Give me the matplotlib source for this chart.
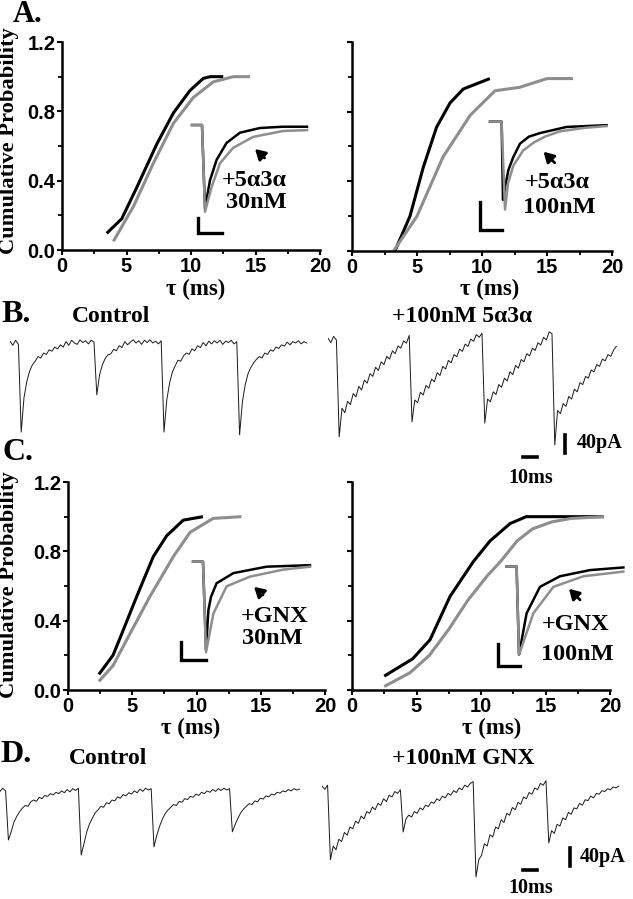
import numpy as np
import matplotlib
matplotlib.use("Agg")
import matplotlib.pyplot as plt
from matplotlib.ticker import MultipleLocator

# ---- cumulative probability curves (tau in ms, probability) ----
a30_ctrl_t = [3.46, 4.63, 5.79, 7.34, 8.63, 9.92, 10.95, 11.5, 12.5]
a30_ctrl_p = [0.096, 0.18, 0.36, 0.61, 0.79, 0.92, 0.99, 1.0, 1.0]
a30_drug_t = [3.98, 5.53, 7.08, 8.63, 10.18, 11.73, 13.28, 14.57]
a30_drug_p = [0.05, 0.25, 0.50, 0.73, 0.88, 0.97, 1.0, 1.0]

a100_ctrl_t = [3.3, 4.46, 5.48, 6.5, 7.54, 8.56, 10.6]
a100_ctrl_p = [0.0, 0.2, 0.48, 0.71, 0.85, 0.93, 0.99]
a100_drug_t = [3.2, 5.0, 7.0, 9.1, 11.0, 12.9, 15.0, 17.0]
a100_drug_p = [0.0, 0.2, 0.54, 0.78, 0.92, 0.94, 0.99, 0.99]

g30_ctrl_t = [2.4, 3.5, 4.05, 5.35, 6.64, 7.68, 8.97, 10.5]
g30_ctrl_p = [0.09, 0.2, 0.3, 0.54, 0.77, 0.89, 0.98, 1.0]
g30_drug_t = [2.4, 3.5, 4.57, 6.38, 8.2, 9.5, 11.3, 13.5]
g30_drug_p = [0.05, 0.14, 0.29, 0.54, 0.77, 0.91, 0.99, 1.0]

g100_ctrl_t = [2.5, 4.7, 6.05, 7.6, 9.4, 10.7, 12.25, 13.5, 19.5]
g100_ctrl_p = [0.08, 0.18, 0.29, 0.54, 0.74, 0.86, 0.96, 1.0, 1.0]
g100_drug_t = [2.5, 4.5, 6.0, 7.5, 9.0, 10.5, 11.5, 12.8, 14.0, 15.5, 17.0, 19.5]
g100_drug_p = [0.02, 0.10, 0.20, 0.35, 0.52, 0.66, 0.74, 0.86, 0.93, 0.97, 0.99, 1.0]

# ---- averaged, normalised sIPSC insets (ms, normalised current) ----
ia30_ctrl_t = [3.5, 8.5, 10, 12.5, 15.8, 20.8, 27.5, 37.5, 49, 61]
ia30_ctrl_i = [0, 0, -0.98, -0.65, -0.41, -0.21, -0.09, -0.035, -0.02, -0.02]
ia30_drug_t = [3.5, 8.5, 10, 13.3, 17.5, 24, 34, 49, 61]
ia30_drug_i = [0, 0, -1.02, -0.73, -0.45, -0.27, -0.14, -0.07, -0.06]

ia100_ctrl_t = [7.5, 13.3, 14, 15, 16.7, 19.2, 22.5, 27, 32.5, 45.8, 65.8]
ia100_ctrl_i = [0, 0, -0.89, -0.75, -0.55, -0.4, -0.25, -0.17, -0.13, -0.06, -0.04]
ia100_drug_t = [7.5, 13.3, 15, 16.5, 19.2, 24, 29.2, 35, 42.5, 55, 65.8]
ia100_drug_i = [0, 0, -1.0, -0.7, -0.5, -0.33, -0.24, -0.17, -0.11, -0.07, -0.05]

ig30_ctrl_t = [9, 14, 15.5, 16.7, 18, 20.8, 29.2, 45.8, 67.5]
ig30_ctrl_i = [0, 0, -1.0, -0.55, -0.4, -0.245, -0.13, -0.057, -0.04]
ig30_drug_t = [9, 14, 15.5, 19.2, 25.8, 37.5, 54.2, 67.5]
ig30_drug_i = [0, 0, -1.03, -0.59, -0.28, -0.17, -0.09, -0.057]

ig100_ctrl_t = [8.3, 13.3, 14.5, 18.3, 25, 35, 50, 66.7]
ig100_ctrl_i = [0, 0, -1.0, -0.53, -0.23, -0.11, -0.04, -0.01]
ig100_drug_t = [8.3, 13.3, 14.5, 21.7, 31.7, 46.7, 66.7]
ig100_drug_i = [0, 0, -1.0, -0.53, -0.23, -0.11, -0.057]

# ---- raw current traces, pA, one sample every 2 ms ----
dt = 2.0
b_ctrl = [4, -5, 6, -3, -196, -120, -85, -62, -48, -40, -30, -33, -22, -25, -15, -18,
          -9, -13, -4, -9, 3, -5, 6, 0, -3, 7, 1, 5, -2, 6, 2, -114, -70, -48, -34, -26,
          -24, -14, -17, -6, -10, 3, -4, 2, 7, 0, 5, -3, 6, 1, 7, 0, 4, -2, 5, -196,
          -125, -88, -64, -50, -38, -40, -28, -22, -25, -13, -17, -6, -10, 1, -6, 4, -2,
          5, 0, 6, -3, 4, 1, 6, -2, 3, -202, -130, -92, -68, -54, -44, -36, -30, -33,
          -22, -25, -15, -18, -9, -12, -4, -7, 2, -4, 3, 0, 5, -2, 3, 0]
b_drug = [4, -6, 8, 0, -213, -150, -160, -135, -142, -118, -125, -102, -110, -88, -95,
          -74, -80, -60, -67, -48, -54, -36, -42, -24, -30, -13, -18, -2, -7, 10, -180,
          -132, -138, -115, -121, -100, -106, -86, -92, -72, -78, -58, -64, -45, -50,
          -32, -37, -20, -25, -9, -14, 2, -3, 12, 6, 15, -183, -130, -136, -114, -120,
          -98, -104, -84, -90, -70, -76, -56, -62, -43, -48, -30, -35, -18, -23, -6,
          -11, 6, 0, 18, 14, -231, -155, -162, -140, -146, -124, -130, -108, -114, -94,
          -98, -80, -84, -66, -70, -54, -58, -42, -46, -32, -36, -22, -14]
d_ctrl = [-3, 4, -2, -110, -92, -70, -58, -48, -40, -34, -36, -26, -22, -25, -16, -19,
          -12, -14, -8, -11, -5, -8, -2, -6, 1, -4, 3, -1, 4, -143, -118, -92, -74, -62,
          -50, -44, -36, -38, -28, -30, -22, -24, -15, -18, -10, -13, -6, -9, -2, -6, 2,
          -3, 4, 0, 3, -125, -100, -80, -64, -52, -44, -38, -32, -34, -25, -27, -19, -21,
          -14, -16, -9, -12, -5, -8, -2, -5, 1, -3, 3, -1, 4, 0, 3, -92, -76, -62, -50,
          -42, -36, -30, -32, -24, -26, -18, -20, -13, -15, -9, -11, -5, -7, -2, -4, 1,
          -2, 3, 0, 2]
d_drug = [2, -5, 4, -160, -130, -138, -115, -120, -100, -106, -88, -92, -75, -80, -64,
          -70, -54, -58, -44, -50, -36, -40, -26, -32, -18, -22, -10, -14, -6, -99, -70,
          -62, -66, -54, -58, -46, -50, -40, -43, -33, -36, -26, -30, -20, -24, -14, -18,
          -8, -12, -2, -6, 4, 0, 8, 12, -198, -160, -150, -125, -130, -105, -110, -88,
          -92, -72, -78, -58, -62, -45, -50, -34, -38, -22, -26, -12, -16, -2, -6, 8, 4,
          14, -123, -96, -102, -82, -86, -68, -72, -56, -60, -46, -48, -36, -40, -28, -30,
          -20, -24, -14, -16, -8, -10, -4, -6, 0, -2, 2]

BLACK = "#000000"
GREY = "#8e8e8e"
SERIF = "Liberation Serif"
SANS = "Liberation Sans"

W, H = 633, 899
fig = plt.figure(figsize=(W / 100, H / 100), dpi=100)


def px_axes(x0, y0, x1, y1):
    return fig.add_axes([x0 / W, 1 - y1 / H, (x1 - x0) / W, (y1 - y0) / H])


def ftext(x, y, s, size=15, **kw):
    fig.text(x / W, 1 - y / H, s, fontsize=size, family=SERIF, weight="bold",
             ha=kw.pop("ha", "center"), va=kw.pop("va", "center"), **kw)


def cdf_panel(box, ctrl, drug, ylabels=True):
    ax = px_axes(*box)
    ax.plot(ctrl[0], ctrl[1], color=BLACK, lw=2.2, solid_capstyle="butt")
    ax.plot(drug[0], drug[1], color=GREY, lw=2.2, solid_capstyle="butt")
    ax.set_xlim(0, 20)
    ax.set_ylim(0, 1.2)
    for s in ("top", "right"):
        ax.spines[s].set_visible(False)
    for s in ("left", "bottom"):
        ax.spines[s].set_linewidth(1.8)
    ax.set_xticks([0, 5, 10, 15, 20])
    ax.set_yticks([0, 0.4, 0.8, 1.2])
    ax.xaxis.set_minor_locator(MultipleLocator(2.5))
    ax.yaxis.set_minor_locator(MultipleLocator(0.2))
    ax.tick_params(which="major", length=3.5, width=1.5, pad=1.2)
    ax.tick_params(which="minor", length=2.8, width=1.3)
    ax.set_xticklabels(["0", "5", "10", "15", "20"])
    if ylabels:
        ax.set_yticklabels(["0.0", "0.4", "0.8", "1.2"])
    else:
        ax.set_yticklabels([])
    for lab in ax.get_xticklabels() + ax.get_yticklabels():
        lab.set_fontfamily(SANS)
        lab.set_fontweight("bold")
        lab.set_fontsize(14.5)
    return ax


def inset(box, xlim, ylim, ctrl, drug, bar, arrow):
    ax = px_axes(*box)
    ax.plot(ctrl[0], ctrl[1], color=BLACK, lw=1.8)
    ax.plot(drug[0], drug[1], color=GREY, lw=1.8)
    bx, by0, by1, bx1 = bar
    ax.plot([bx, bx, bx1], [by0, by1, by1], color=BLACK, lw=2.4,
            solid_joinstyle="miter")
    ax.annotate("", xy=arrow[1], xytext=arrow[0],
                arrowprops=dict(arrowstyle="-|>,head_length=0.6,head_width=0.35",
                                color=BLACK, lw=2.0))
    ax.set_xlim(*xlim)
    ax.set_ylim(*ylim)
    ax.axis("off")
    return ax


def trace(box, xlim, ylim, y):
    ax = px_axes(*box)
    t = np.arange(len(y)) * dt
    ax.plot(t, y, color="#1a1a1a", lw=0.7)
    ax.set_xlim(*xlim)
    ax.set_ylim(*ylim)
    ax.axis("off")
    return ax


# ---------- panel A ----------
cdf_panel((62, 42, 320, 250), (a30_ctrl_t, a30_ctrl_p), (a30_drug_t, a30_drug_p))
cdf_panel((352, 42, 612, 251), (a100_ctrl_t, a100_ctrl_p), (a100_drug_t, a100_drug_p),
          ylabels=False)
inset((185, 115, 312, 240), (0, 63.5), (-1.353, 0.118),
      (ia30_ctrl_t, ia30_ctrl_i), (ia30_drug_t, ia30_drug_i),
      (6.5, -1.094, -1.27, 18.5), ((40.8, -0.41), (34, -0.26)))
inset((475, 112, 612, 240), (0, 68.5), (-1.347, 0.11),
      (ia100_ctrl_t, ia100_ctrl_i), (ia100_drug_t, ia100_drug_i),
      (2.5, -0.92, -1.23, 13.5), ((40.8, -0.49), (33.3, -0.32)))
ftext(254, 180, "+5\u03b13\u03b1", 17.5)
ftext(256, 203, "30nM", 17.5)
ftext(557, 182, "+5\u03b13\u03b1", 17.5)
ftext(559, 208, "100nM", 17.5)
ftext(28, 14, "A.", 22)
ftext(9, 141, "Cumulative Probability", 16.2, rotation=90)
ftext(196, 289, "\u03c4 (ms)", 16.5)
ftext(490, 289, "\u03c4 (ms)", 16.5)

# ---------- panel B ----------
trace((10, 325, 310, 445), (0, 214.3), (-224.4, 39.6), b_ctrl)
axb = trace((328, 322, 628, 455), (0, 214.3), (-253, 39.6), b_drug)
axb.plot([169.3, 169.3], [-209, -249], color=BLACK, lw=2.6, clip_on=False)
axb.plot([139.3, 149.3], [-257.4, -257.4], color=BLACK, lw=2.6, clip_on=False)
ftext(16, 315, "B.", 23)
ftext(111, 316, "Control", 17)
ftext(462, 316, "+100nM 5\u03b13\u03b1", 17)
ftext(577, 443, "40pA", 14.5, ha="left")
ftext(531, 478, "10ms", 14.5)

# ---------- panel C ----------
cdf_panel((68, 482, 325, 690), (g30_ctrl_t, g30_ctrl_p), (g30_drug_t, g30_drug_p))
cdf_panel((352, 482, 610, 690), (g100_ctrl_t, g100_ctrl_p), (g100_drug_t, g100_drug_p),
          ylabels=False)
inset((175, 552, 315, 665), (0, 70), (-1.175, 0.11),
      (ig30_ctrl_t, ig30_ctrl_i), (ig30_drug_t, ig30_drug_i),
      (3, -0.91, -1.12, 15.5), ((45, -0.40), (38.5, -0.265)))
inset((490, 556, 628, 672), (0, 69), (-1.197, 0.12),
      (ig100_ctrl_t, ig100_ctrl_i), (ig100_drug_t, ig100_drug_i),
      (4, -0.88, -1.13, 15), ((46, -0.40), (38.5, -0.23)))
ftext(275, 617, "+GNX", 17.5)
ftext(272, 639, "30nM", 17.5)
ftext(576, 625, "+GNX", 17.5)
ftext(577, 655, "100nM", 17.5)
ftext(18, 453, "C.", 23)
ftext(9, 585, "Cumulative Probability", 16.2, rotation=90)
ftext(191, 728, "\u03c4 (ms)", 16.5)
ftext(492, 728, "\u03c4 (ms)", 16.5)

# ---------- panel D ----------
trace((0, 770, 305, 880), (0, 217.9), (-198, 44), d_ctrl)
axd = trace((322, 765, 628, 885), (0, 218.6), (-215.6, 48.4), d_drug)
axd.plot([177.1, 177.1], [-134, -174], color=BLACK, lw=2.6, clip_on=False)
axd.plot([143.6, 153.6], [-182, -182], color=BLACK, lw=2.6, clip_on=False)
ftext(16, 755, "D.", 23)
ftext(108, 758, "Control", 17)
ftext(463, 758, "+100nM GNX", 17)
ftext(580, 857, "40pA", 14.5, ha="left")
ftext(531, 888, "10ms", 14.5)

fig.savefig("out.png", dpi=100)
